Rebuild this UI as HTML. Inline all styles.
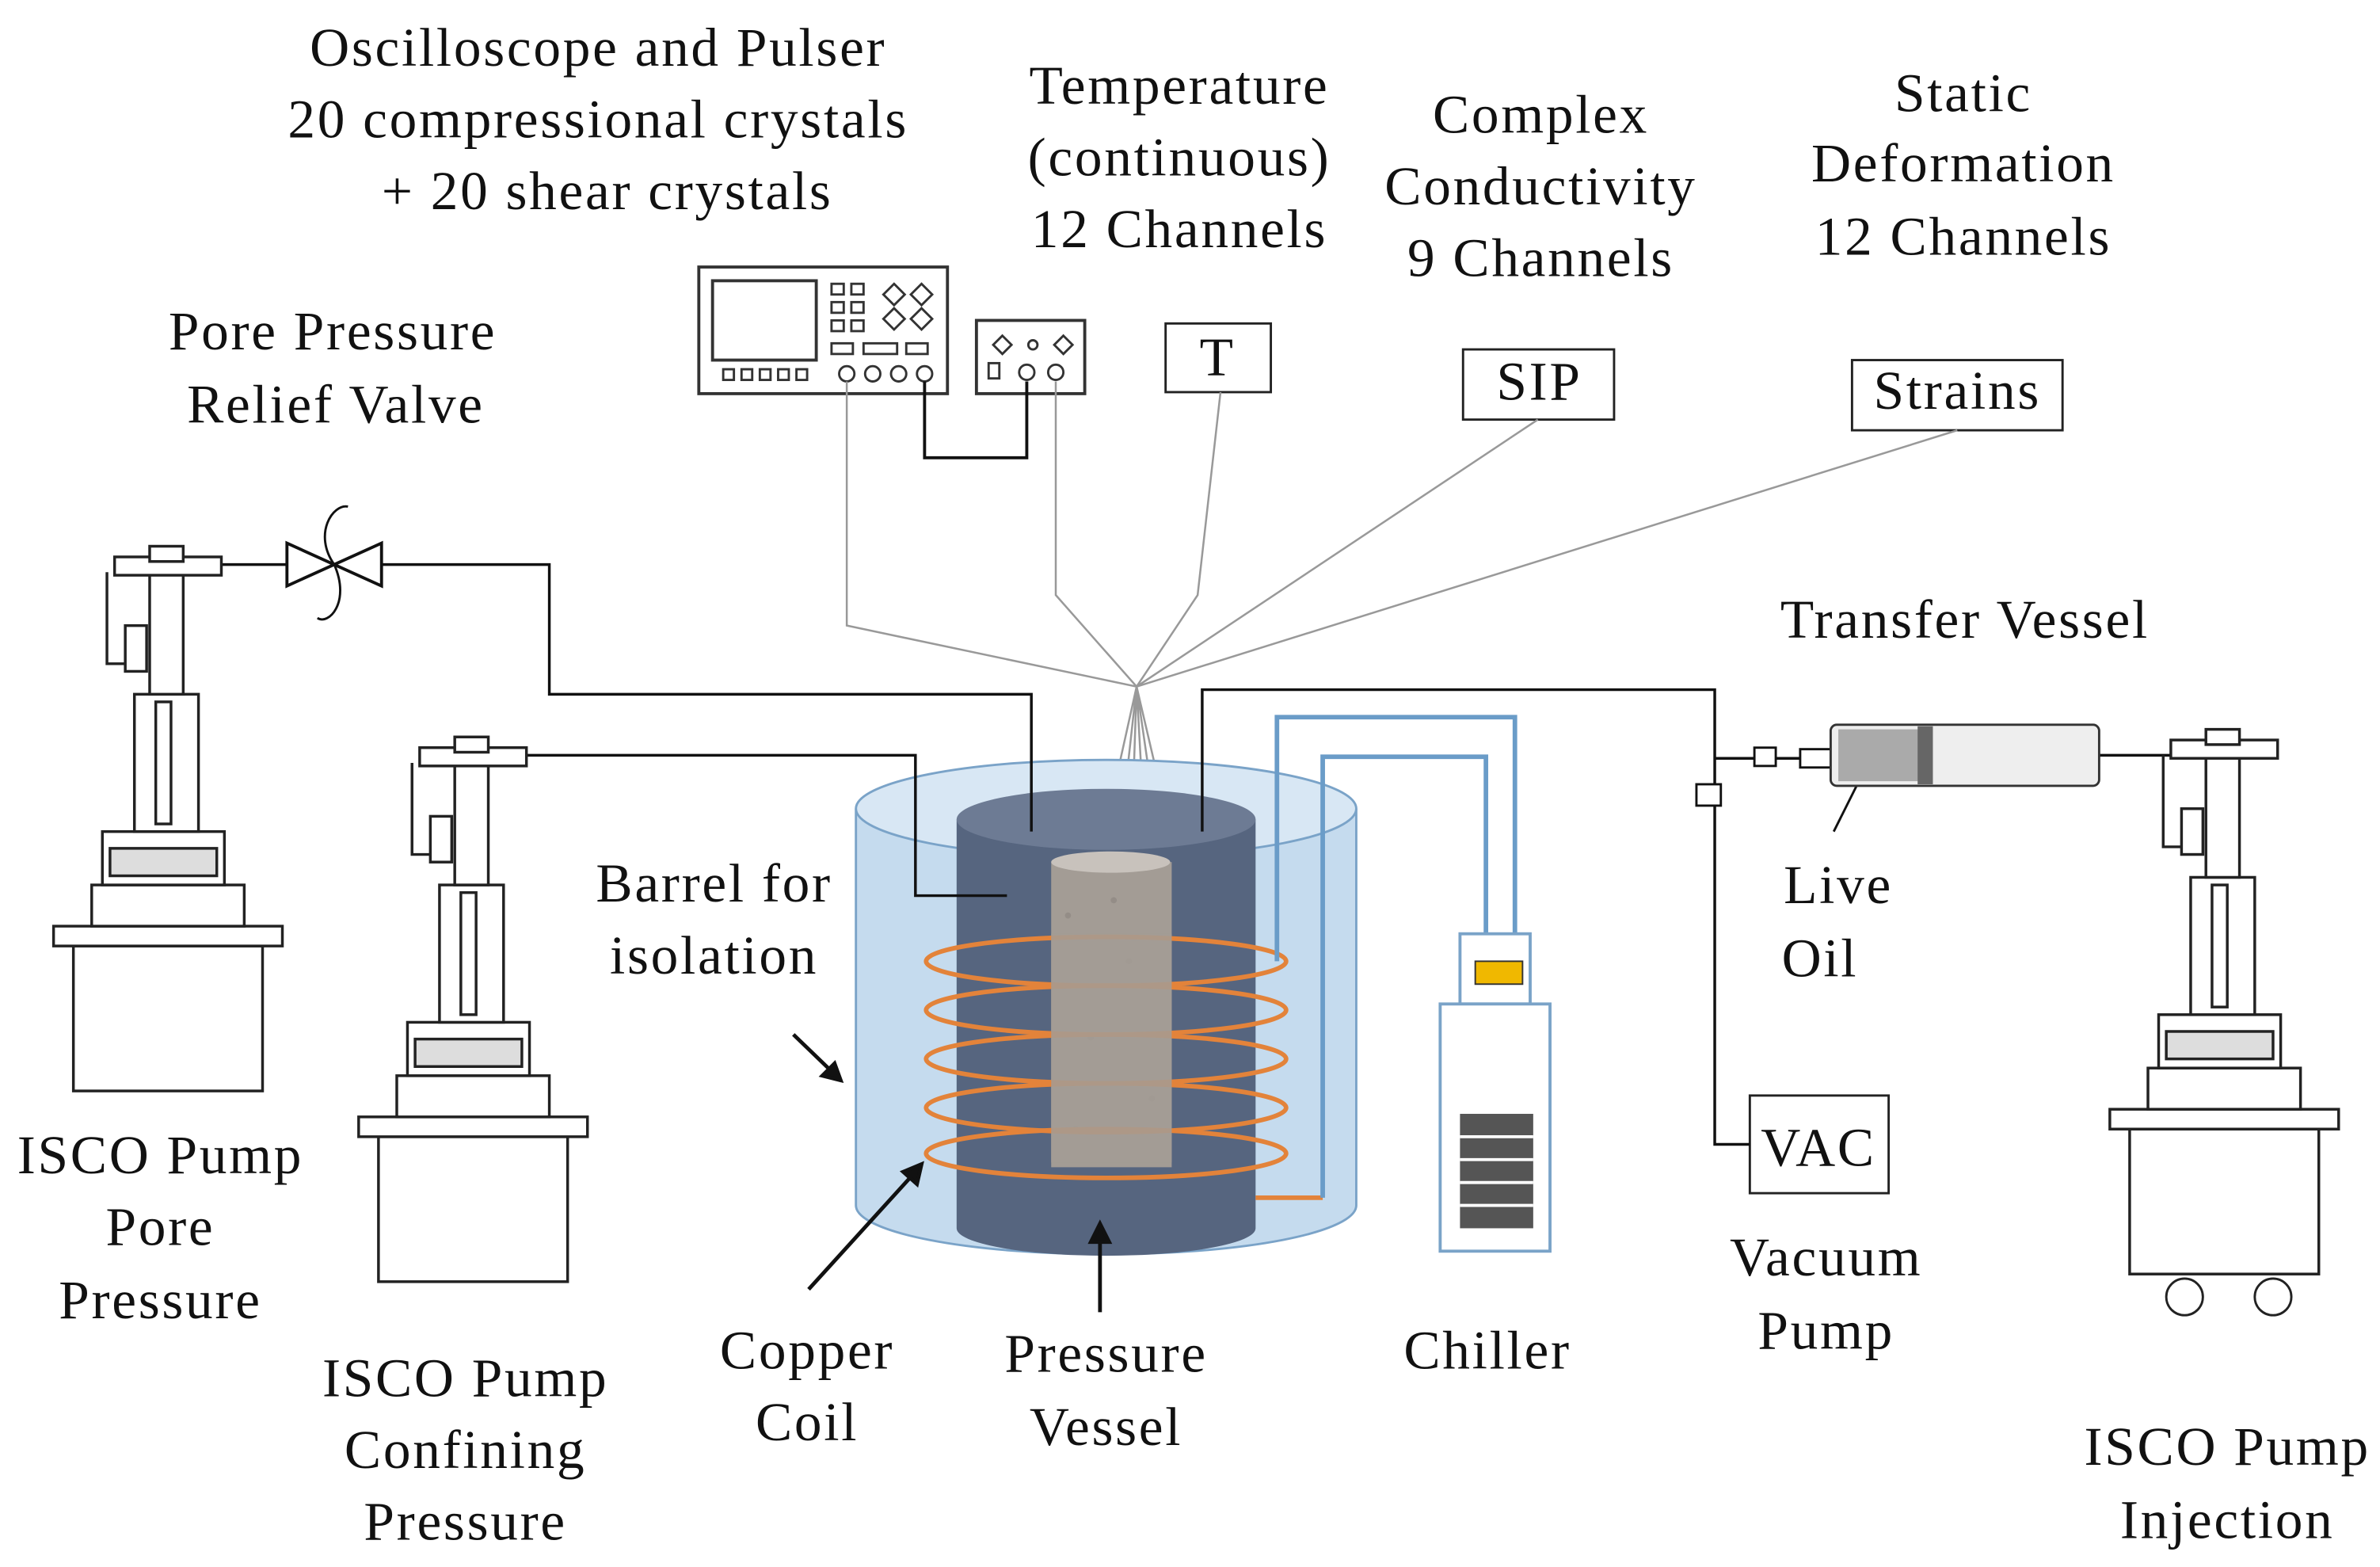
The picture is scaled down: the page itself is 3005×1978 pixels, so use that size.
<!DOCTYPE html>
<html><head><meta charset="utf-8"><style>
html,body{margin:0;padding:0;background:#fff;}
svg{display:block;}
text{font-family:"Liberation Serif",serif;font-size:36px;letter-spacing:1.4px;fill:#111;text-anchor:middle;}
</style></head><body>
<svg width="3005" height="1978" viewBox="0 0 1560 1027" xmlns="http://www.w3.org/2000/svg">
<rect width="1560" height="1027" fill="#fff"/>
<text x="392" y="43">Oscilloscope and Pulser</text>
<text x="392" y="90">20 compressional crystals</text>
<text x="398" y="137">+ 20 shear crystals</text>
<text x="773" y="68">Temperature</text>
<text x="773" y="115">(continuous)</text>
<text x="773" y="162">12 Channels</text>
<text x="1010" y="87">Complex</text>
<text x="1010" y="134">Conductivity</text>
<text x="1010" y="181">9 Channels</text>
<text x="1287" y="73">Static</text>
<text x="1287" y="119">Deformation</text>
<text x="1287" y="167">12 Channels</text>
<text x="218" y="229">Pore Pressure</text>
<text x="220" y="277">Relief Valve</text>
<text x="1288" y="418">Transfer Vessel</text>
<text x="1205" y="592">Live</text>
<text x="1193" y="640">Oil</text>
<text x="468" y="591">Barrel for</text>
<text x="468" y="638">isolation</text>
<text x="105" y="769">ISCO Pump</text>
<text x="105" y="816">Pore</text>
<text x="105" y="864">Pressure</text>
<text x="305" y="915">ISCO Pump</text>
<text x="305" y="962">Confining</text>
<text x="305" y="1009">Pressure</text>
<text x="529" y="897">Copper</text>
<text x="529" y="944">Coil</text>
<text x="725" y="899">Pressure</text>
<text x="725" y="947">Vessel</text>
<text x="975" y="897">Chiller</text>
<text x="1197" y="836">Vacuum</text>
<text x="1197" y="884">Pump</text>
<text x="1460" y="960">ISCO Pump</text>
<text x="1460" y="1008">Injection</text>

<g fill="#fff" stroke="#222" stroke-width="1.5">
<rect x="764" y="212" width="69" height="45"/>
<rect x="959" y="229" width="99" height="46"/>
<rect x="1214" y="236" width="138" height="46"/>
<rect x="1147" y="718" width="91" height="64"/>
</g>
<text x="798" y="246">T</text>
<text x="1009" y="262">SIP</text>
<text x="1283" y="268">Strains</text>
<text x="1192" y="764">VAC</text>

<g stroke="#333" stroke-width="2" fill="#fff">
<rect x="458" y="175" width="163" height="83"/>
<rect x="467" y="184" width="68" height="52" fill="#fff"/>
<rect x="640" y="210" width="71" height="48"/>
</g>
<g fill="none" stroke="#333" stroke-width="1.5">
<rect x="545" y="186" width="8" height="7"/><rect x="558" y="186" width="8" height="7"/>
<rect x="545" y="198" width="8" height="7"/><rect x="558" y="198" width="8" height="7"/>
<rect x="545" y="210" width="8" height="7"/><rect x="558" y="210" width="8" height="7"/>
<path d="M586 186l7 7-7 7-7-7z M604 186l7 7-7 7-7-7z M586 202l7 7-7 7-7-7z M604 202l7 7-7 7-7-7z"/>
<rect x="545" y="225" width="14" height="7"/><rect x="566" y="225" width="22" height="7"/><rect x="594" y="225" width="14" height="7"/>
<rect x="474" y="242" width="7" height="7"/><rect x="486" y="242" width="7" height="7"/><rect x="498" y="242" width="7" height="7"/><rect x="510" y="242" width="7" height="7"/><rect x="522" y="242" width="7" height="7"/>
<circle cx="555" cy="245" r="5"/><circle cx="572" cy="245" r="5"/><circle cx="589" cy="245" r="5"/><circle cx="606" cy="245" r="5"/>
<path d="M657 220l6 6-6 6-6-6z M697 220l6 6-6 6-6-6z"/><circle cx="677" cy="226" r="3"/>
<rect x="648" y="238" width="7" height="10"/><circle cx="673" cy="244" r="5"/><circle cx="692" cy="244" r="5"/>
</g>
<path d="M606 250V300H673V250" fill="none" stroke="#111" stroke-width="2"/>

<g stroke="#999" stroke-width="1.3" fill="none">
<path d="M555 250V410L745 450"/>
<path d="M692 250V390L745 450"/>
<path d="M800 257L785 390L745 450"/>
<path d="M1008 275L745 450"/>
<path d="M1283 282L745 450"/>
<path d="M745 450L725 540M745 450L735 540M745 450L742 540M745 450L750 540M745 450L758 540M745 450L766 540"/>
</g>

<path d="M561 530V790A164 32 0 0 0 889 790V530" fill="#c5dbee" stroke="#7aa3c8" stroke-width="1.5"/>
<ellipse cx="725" cy="530" rx="164" ry="32" fill="#d8e7f4" stroke="#7aa3c8" stroke-width="1.5"/>
<path d="M627 537V805A98 18 0 0 0 823 805V537" fill="#56657f"/>
<ellipse cx="725" cy="537" rx="98" ry="20" fill="#6d7b94"/>
<rect x="689" y="565" width="79" height="200" fill="#a39c95"/>
<ellipse cx="728" cy="565" rx="39" ry="7" fill="#c8c2bc"/>
<g fill="#8b847e" opacity="0.6">
<circle cx="700" cy="600" r="2"/><circle cx="740" cy="630" r="2"/><circle cx="715" cy="680" r="2"/><circle cx="755" cy="720" r="2"/><circle cx="705" cy="740" r="2"/><circle cx="730" cy="590" r="2"/>
</g>
<g fill="none" stroke="#e3833a" stroke-width="3">
<ellipse cx="725" cy="630" rx="118" ry="16"/>
<ellipse cx="725" cy="662" rx="118" ry="16"/>
<ellipse cx="725" cy="694" rx="118" ry="16"/>
<ellipse cx="725" cy="726" rx="118" ry="16"/>
<ellipse cx="725" cy="756" rx="118" ry="16"/>
<path d="M823 785H867"/>
</g>
<rect x="689" y="612" width="79" height="150" fill="#a39c95" opacity="0.85"/>
<g fill="none" stroke="#6a9cc8" stroke-width="3">
<path d="M837 630V470H993V612"/>
<path d="M867 785V496H974V612"/>
</g>
<rect x="957" y="612" width="46" height="46" fill="#fff" stroke="#7aa3c8" stroke-width="2"/>
<rect x="967" y="630" width="31" height="15" fill="#f0b800" stroke="#333"/>
<rect x="944" y="658" width="72" height="162" fill="#fff" stroke="#7aa3c8" stroke-width="2"/>
<rect x="957" y="730" width="48" height="75" fill="#555"/>
<g stroke="#fff" stroke-width="2"><path d="M957 745H1005M957 760H1005M957 775H1005M957 790H1005"/></g>

<g stroke="#111" stroke-width="2.5" fill="#111">
<path d="M520 678L548 705" /><path d="M551 708l-12-3 8-8z"/>
<path d="M530 845L600 768"/><path d="M604 763l-3 13-9-8z"/>
<path d="M721 860V808"/><path d="M721 802l6 12h-12z"/>
<path d="M1202 545L1222 505" stroke-width="1.5"/>
</g>

<g fill="none" stroke="#111" stroke-width="1.8">
<path d="M145 370H188"/>
<path d="M250 370H360V455H676V545"/>
<path d="M340 495H600V587H660"/>
<path d="M788 545V452H1124V750H1147"/>
<path d="M1124 497H1200"/>
<path d="M1376 495H1430"/>
</g>
<path d="M188 356V384L250 356V384Z" fill="#fff" stroke="#111" stroke-width="2"/>
<path d="M219 370C205 350 218 330 228 332M219 370C230 395 215 410 208 405" fill="none" stroke="#111" stroke-width="1.5"/>
<g fill="#fff" stroke="#111" stroke-width="1.5">
<rect x="1150" y="490" width="14" height="12"/><rect x="1180" y="491" width="20" height="12"/>
<rect x="1112" y="514" width="16" height="14"/>
</g>
<rect x="1200" y="475" width="176" height="40" rx="4" fill="#eee" stroke="#333" stroke-width="1.5"/>
<rect x="1205" y="478" width="57" height="34" fill="#aaa"/>
<rect x="1257" y="476" width="10" height="38" fill="#666"/>

<defs>
<g id="pump" fill="#fff" stroke="#222" stroke-width="1.8">
<rect x="48" y="620" width="124" height="95"/>
<rect x="35" y="607" width="150" height="13"/>
<rect x="60" y="580" width="100" height="27"/>
<rect x="67" y="545" width="80" height="35"/>
<rect x="72" y="556" width="70" height="18" fill="#ddd"/>
<rect x="88" y="455" width="42" height="90"/>
<rect x="102" y="460" width="10" height="80"/>
<rect x="98" y="375" width="22" height="80"/>
<rect x="82" y="410" width="14" height="30"/>
<path d="M70 375V435H82" fill="none"/>
<rect x="75" y="365" width="70" height="12"/>
<rect x="98" y="358" width="22" height="10"/>
</g>
</defs>
<use href="#pump"/>
<use href="#pump" transform="translate(200,125)"/>
<use href="#pump" transform="translate(1348,120)"/>
<g fill="#fff" stroke="#222" stroke-width="1.5">
<circle cx="1432" cy="850" r="12"/><circle cx="1490" cy="850" r="12"/>
</g>
</svg>
</body></html>
